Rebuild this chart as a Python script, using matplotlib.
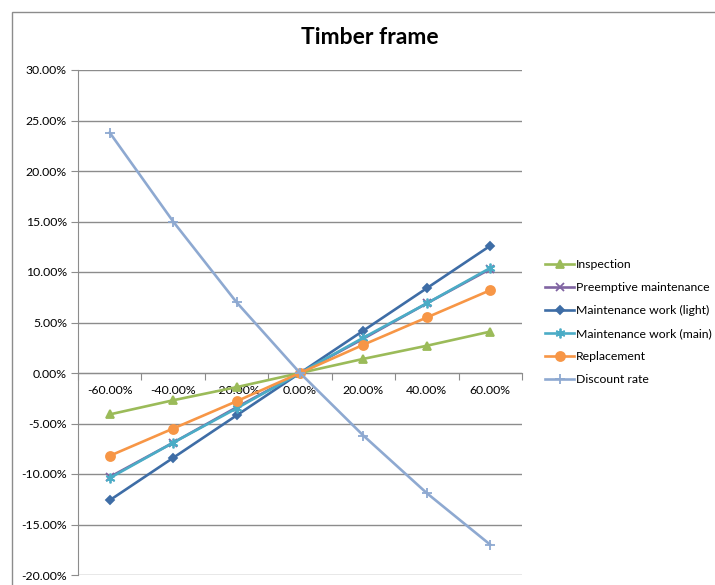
import matplotlib
matplotlib.use("Agg")
import matplotlib.pyplot as plt
from matplotlib.patches import Rectangle
import numpy as np

categories = ["-60.00%", "-40.00%", "-20.00%", "0.00%", "20.00%", "40.00%", "60.00%"]
inspection = [-4.1, -2.7, -1.4, 0.0, 1.4, 2.7, 4.1]
preemptive = [-10.3, -6.9, -3.4, 0.0, 3.4, 6.9, 10.3]
maint_light = [-12.6, -8.4, -4.2, 0.0, 4.2, 8.4, 12.6]
maint_main = [-10.4, -6.9, -3.5, 0.0, 3.5, 6.9, 10.4]
replacement = [-8.2, -5.5, -2.8, 0.0, 2.8, 5.5, 8.2]
discount = [23.8, 15.0, 7.0, 0.0, -6.2, -11.9, -17.0]
y_ticks = [30, 25, 20, 15, 10, 5, 0, -5, -10, -15, -20]

plt.rcParams['font.family'] = ['Lato', 'DejaVu Sans']

fig = plt.figure(figsize=(7.15, 5.85), dpi=100)
ax = fig.add_axes([78/715, 1-575/585, (522-78)/715, (575-70)/585])

x = np.arange(len(categories))
series = [
    ("Inspection", inspection, "#9BBB59", "^", 5.5, 1),
    ("Preemptive maintenance", preemptive, "#8064A2", "x", 5.5, 2),
    ("Maintenance work (light)", maint_light, "#3E6DA6", "D", 4.5, 3),
    ("Maintenance work (main)", maint_main, "#4BACC6", (6, 2, 0), 7, 4),
    ("Replacement", replacement, "#F79646", "o", 6.5, 5),
    ("Discount rate", discount, "#8EA9D1", "+", 7, 6),
]
handles = []
for name, vals, col, mk, ms, z in series:
    h, = ax.plot(x, vals, color=col, lw=1.9, marker=mk, markersize=ms,
                 markeredgewidth=1.3, markeredgecolor=col, markerfacecolor=col,
                 label=name, zorder=z + 3, clip_on=False)
    handles.append(h)

ax.set_xlim(-0.5, len(categories) - 0.5)
ax.set_ylim(-20, 30)
ax.set_yticks(y_ticks)
ax.set_yticklabels([f"{v:.2f}%" for v in y_ticks], fontsize=8.8)
ax.yaxis.grid(True, color="#8C8C8C", lw=1)
ax.set_axisbelow(True)

ax.spines['top'].set_visible(False)
ax.spines['right'].set_visible(False)
ax.spines['left'].set_color("#8C8C8C")
ax.spines['bottom'].set_color("#8C8C8C")
ax.spines['bottom'].set_position(('data', 0))
ax.tick_params(axis='y', length=5, color="#8C8C8C", pad=3)

ax.set_xticks(np.arange(-0.5, len(categories)), minor=False)
ax.set_xticklabels([])
ax.tick_params(axis='x', which='major', length=5, direction='out', color="#8C8C8C")
ax.set_xticks(x, minor=True)
ax.set_xticklabels(categories, minor=True, fontsize=8.8)
ax.tick_params(axis='x', which='minor', length=0, pad=9)

fig.text(370/715, 1-38/585, "Timber frame", ha='center', va='center',
         fontsize=16.5, fontweight='bold')

leg = fig.legend(handles=handles, loc='upper left', bbox_to_anchor=(540/715, 1-254/585),
                 frameon=False, fontsize=8.8, handlelength=2.4, handletextpad=0.15,
                 labelspacing=0.98, borderaxespad=0)

fig.patches.append(Rectangle((12/715, -0.05), 1.1, 1-12/585+0.05, transform=fig.transFigure,
                             fill=False, edgecolor="#8C8C8C", lw=1))

fig.savefig("out.png", dpi=100)
